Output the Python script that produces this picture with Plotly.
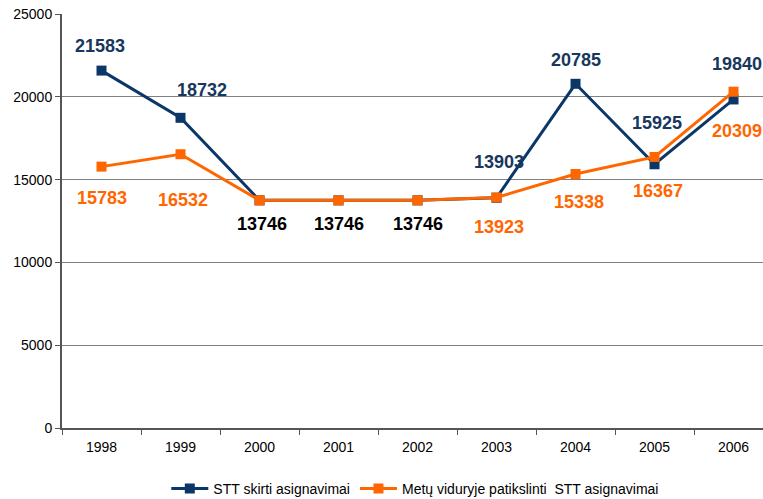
import plotly.graph_objects as go

years = ["1998", "1999", "2000", "2001", "2002", "2003", "2004", "2005", "2006"]
stt_skirti = [21583, 18732, 13746, 13746, 13746, 13903, 20785, 15925, 19840]
metu_patikslinti = [15783, 16532, 13746, 13746, 13746, 13923, 15338, 16367, 20309]
series_names = ["STT skirti asignavimai", "Metų viduryje patikslinti  STT asignavimai"]

BLUE = "#0b3768"
BLUE_TXT = "#17375e"
ORANGE = "#ff6600"
FONT = "Liberation Sans, Arial, sans-serif"

# label offsets (pixels) – style only
blue_off = [(-2, 25), (21, 28), (0, 0), (0, 0), (0, 0), (2, 36), (0, 24), (2, 41), (3, 35)]
orange_off = [(0, -31), (2, -46), (2, -24), (0, -24), (0, -24), (2, -30), (3, -28), (3, -34), (3, -39)]

fig = go.Figure()
fig.add_trace(go.Scatter(
    x=years, y=stt_skirti, name=series_names[0], mode="lines+markers",
    line=dict(color=BLUE, width=3), marker=dict(symbol="square", size=10, color=BLUE)))
fig.add_trace(go.Scatter(
    x=years, y=metu_patikslinti, name=series_names[1], mode="lines+markers",
    line=dict(color=ORANGE, width=3), marker=dict(symbol="square", size=10, color=ORANGE)))

annotations = []
for i, yr in enumerate(years):
    b, o = stt_skirti[i], metu_patikslinti[i]
    if b == o:
        annotations.append(dict(x=i, y=o, xref="x", yref="y", text=str(o), showarrow=False,
                                xshift=orange_off[i][0], yshift=orange_off[i][1],
                                font=dict(family=FONT, size=18, color="#000000")))
    else:
        annotations.append(dict(x=i, y=b, xref="x", yref="y", text=str(b), showarrow=False,
                                xshift=blue_off[i][0], yshift=blue_off[i][1],
                                font=dict(family=FONT, size=18, color=BLUE_TXT)))
        annotations.append(dict(x=i, y=o, xref="x", yref="y", text=str(o), showarrow=False,
                                xshift=orange_off[i][0], yshift=orange_off[i][1],
                                font=dict(family=FONT, size=18, color=ORANGE)))
for a in annotations:
    a["text"] = "<b>" + a["text"] + "</b>"

fig.update_layout(
    width=763, height=499,
    margin=dict(l=62, r=0, t=14, b=71, autoexpand=False),
    plot_bgcolor="white", paper_bgcolor="white",
    font=dict(family=FONT, size=14, color="#000000"),
    annotations=annotations,
    showlegend=True,
    legend=dict(orientation="h", x=0.504, xanchor="center", y=-0.147, yanchor="middle",
                font=dict(family=FONT, size=14), itemwidth=37, bgcolor="rgba(0,0,0,0)"),
    xaxis=dict(type="category", range=[-0.5, 8.373], tickson="boundaries",
               ticks="outside", ticklen=5, tickcolor="#555555", ticklabelstandoff=5,
               tickfont=dict(size=14),
               showline=True, linecolor="#555555", linewidth=2,
               showgrid=False, zeroline=False, fixedrange=True, automargin=False),
    yaxis=dict(range=[0, 25000], tickvals=[0, 5000, 10000, 15000, 20000, 25000],
               tickformat="d", automargin=False, tickfont=dict(size=14),
               ticks="outside", ticklen=5, tickcolor="#555555",
               showline=True, linecolor="#555555", linewidth=2,
               showgrid=True, gridcolor="#808080", gridwidth=1, zeroline=False),
)

fig.write_html("out.html", config={"displayModeBar": False},
               post_script="document.body.style.margin='0';")
